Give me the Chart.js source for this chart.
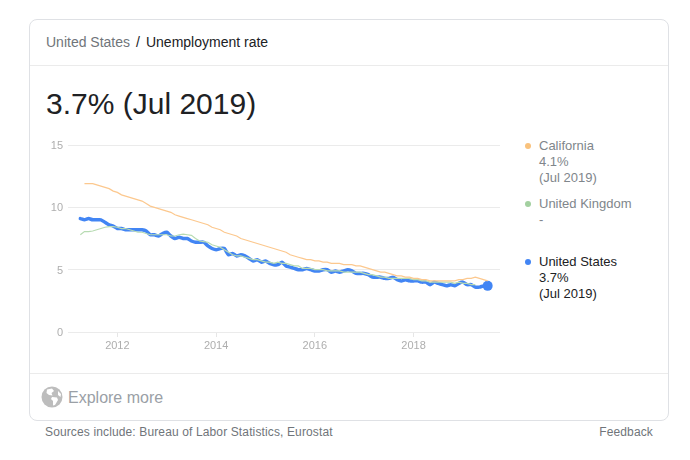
<!DOCTYPE html>
<html>
<head>
<meta charset="utf-8">
<script src="https://cdn.jsdelivr.net/npm/chart.js@4"></script>
<style>
  html, body { margin: 0; padding: 0; background: #fff; }
  body { width: 690px; height: 460px; position: relative; overflow: hidden; font-family: Arial, "Liberation Sans", sans-serif; }
  .abs { position: absolute; white-space: nowrap; }
  #card { left: 29px; top: 19px; width: 638px; height: 400px; border: 1px solid #dfe1e5; border-radius: 8px; box-sizing: content-box; }
  .rule { left: 30px; width: 638px; height: 1px; background: #ebebeb; }
  #crumb { left: 46px; top: 34px; font-size: 14px; line-height: 16px; color: #202124; }
  #crumb span { color: #70757a; }
  #crumb i { font-style: normal; margin: 0 6px 0 6px; }
  #big { left: 46px; top: 86px; font-size: 30px; line-height: 36px; color: #202124; }
  #chartBox { left: 30px; top: 130px; }
  .leg { left: 539px; font-size: 13px; line-height: 16px; color: #80868b; }
  .dot { width: 6px; height: 6px; border-radius: 50%; left: 525px; }
  #explore { left: 68px; top: 388px; font-size: 16px; line-height: 19px; color: #9aa0a6; }
  #globe { left: 41px; top: 386px; }
  #sources { left: 45px; top: 425px; font-size: 12px; line-height: 15px; color: #70757a; letter-spacing: .13px; }
  #feedback { right: 37px; top: 425px; font-size: 12px; line-height: 15px; color: #70757a; letter-spacing: .13px; }
</style>
</head>
<body>
<div class="abs" id="card"></div>
<div class="abs" id="crumb"><span>United States</span><i>/</i>Unemployment rate</div>
<div class="abs rule" style="top:65px"></div>
<div class="abs" id="big">3.7% (Jul 2019)</div>

<div class="abs" id="chartBox"><canvas id="chart" width="475" height="228"></canvas></div>

<div class="abs dot" style="top:143px;background:#f9c27d"></div>
<div class="abs leg" style="top:138px">California<br>4.1%<br>(Jul 2019)</div>
<div class="abs dot" style="top:201px;background:#a3d0a0"></div>
<div class="abs leg" style="top:196px">United Kingdom<br>-</div>
<div class="abs dot" style="top:259px;background:#4285f4"></div>
<div class="abs leg" style="top:254px;color:#202124">United States<br>3.7%<br>(Jul 2019)</div>

<div class="abs rule" style="top:373px"></div>
<svg class="abs" id="globe" width="22" height="22" viewBox="0 0 22 22">
  <circle cx="11" cy="11" r="10.5" fill="#bdbdbd"/>
  <path d="M6 3.5 L11 2.5 L13 5 L10.5 7 L11.5 9.5 L8 9 L5.5 7 Z M11 11 L16 11.5 L17 14 L14 19 L12 19.5 L12 15 L10 13 Z M17 5 L20 8 L19.5 11 L17 9 Z" fill="#fff"/>
</svg>
<div class="abs" id="explore">Explore more</div>
<div class="abs" id="sources">Sources include: Bureau of Labor Statistics, Eurostat</div>
<div class="abs" id="feedback">Feedback</div>

<script>
const years = [2011, 2012, 2013, 2014, 2015, 2016, 2017, 2018, 2019];
const monthNames = ['Jan','Feb','Mar','Apr','May','Jun','Jul','Aug','Sep','Oct','Nov','Dec'];
const tickYears = [2012, 2014, 2016, 2018];
const yTicks = [0, 5, 10, 15];

// monthly axis, runs a little past the last value up to Oct 2019
const months = years.flatMap(y => monthNames.map(m => m + ' ' + y)).slice(0, 106);

const california = [
  null, null, null, null, 11.9, 11.9, 11.9, 11.8, 11.7, 11.6, 11.5, 11.3,
  11.2, 11.0, 10.9, 10.8, 10.7, 10.6, 10.5, 10.3, 10.1, 10.0, 9.9, 9.8,
  9.7, 9.6, 9.4, 9.3, 9.2, 9.1, 9.0, 8.9, 8.8, 8.7, 8.6, 8.4,
  8.3, 8.2, 8.0, 7.9, 7.8, 7.7, 7.5, 7.4, 7.3, 7.2, 7.1, 7.0,
  6.9, 6.8, 6.7, 6.6, 6.5, 6.4, 6.2, 6.1, 6.0, 5.9, 5.8, 5.8,
  5.7, 5.7, 5.6, 5.6, 5.5, 5.5, 5.5, 5.4, 5.4, 5.4, 5.3, 5.3,
  5.2, 5.1, 5.0, 4.9, 4.8, 4.8, 4.7, 4.6, 4.5, 4.5, 4.4, 4.4,
  4.3, 4.3, 4.2, 4.2, 4.1, 4.1, 4.1, 4.1, 4.1, 4.1, 4.1, 4.2,
  4.2, 4.3, 4.3, 4.4, 4.3, 4.2, 4.1
];
const unitedKingdom = [
  null, null, null, 7.8, 8.05, 8.05, 8.1, 8.2, 8.3, 8.4, 8.45, 8.45,
  8.4, 8.3, 8.3, 8.2, 8.1, 8.0, 8.0, 7.9, 7.8, 7.8, 7.8, 7.8,
  7.8, 7.7, 7.7, 7.8, 7.85, 7.8, 7.75, 7.5, 7.3, 7.25, 7.2, 7.0,
  6.9, 6.8, 6.6, 6.4, 6.2, 6.1, 6.1, 6.0, 5.9, 5.8, 5.8, 5.7,
  5.6, 5.6, 5.5, 5.6, 5.5, 5.5, 5.4, 5.3, 5.3, 5.1, 5.1, 5.1,
  5.0, 5.0, 5.0, 4.9, 4.9, 4.9, 4.9, 4.8, 4.8, 4.8, 4.8, 4.8,
  4.7, 4.6, 4.6, 4.5, 4.4, 4.4, 4.3, 4.3, 4.3, 4.3, 4.3, 4.3,
  4.2, 4.2, 4.1, 4.1, 4.0, 4.0, 4.0, 4.0, 4.0, 4.0, 3.9, 4.0,
  3.9, 3.9, 3.8, 3.8
];
const unitedStates = [
  null, null, null, 9.1, 9.0, 9.1, 9.0, 9.0, 9.0, 8.8, 8.6, 8.5,
  8.3, 8.3, 8.2, 8.2, 8.2, 8.2, 8.2, 8.1, 7.8, 7.8, 7.7, 7.9,
  8.0, 7.7, 7.5, 7.6, 7.5, 7.5, 7.3, 7.2, 7.2, 7.2, 6.9, 6.7,
  6.6, 6.7, 6.7, 6.2, 6.3, 6.1, 6.2, 6.1, 5.9, 5.7, 5.8, 5.6,
  5.7, 5.5, 5.4, 5.4, 5.6, 5.3, 5.2, 5.1, 5.0, 5.0, 5.1, 5.0,
  4.9, 4.9, 5.0, 5.0, 4.8, 4.9, 4.8, 4.9, 5.0, 4.9, 4.7, 4.7,
  4.7, 4.6, 4.4, 4.4, 4.4, 4.3, 4.3, 4.4, 4.2, 4.1, 4.2, 4.1,
  4.1, 4.1, 4.0, 4.0, 3.8, 4.0, 3.9, 3.8, 3.7, 3.8, 3.7, 3.9,
  4.0, 3.8, 3.8, 3.6, 3.6, 3.7, 3.7
];

const lastUS = unitedStates.length - 1;

new Chart(document.getElementById('chart'), {
  type: 'line',
  data: {
    labels: months,
    datasets: [
      { label: 'California', data: california, borderColor: '#fcc88e', borderWidth: 1.2, pointRadius: 0, tension: 0 },
      { label: 'United Kingdom', data: unitedKingdom, borderColor: '#b7dbb2', borderWidth: 1.2, pointRadius: 0, tension: 0 },
      {
        label: 'United States', data: unitedStates, borderColor: '#4285f4', borderWidth: 3.5, tension: 0.2,
        borderJoinStyle: 'round', borderCapStyle: 'round',
        pointRadius: c => c.dataIndex === lastUS ? 5 : 0,
        pointBackgroundColor: '#4285f4', pointBorderWidth: 0
      }
    ]
  },
  options: {
    responsive: false,
    animation: false,
    layout: { padding: { top: 15, right: 0, bottom: 0, left: 0 } },
    plugins: { legend: { display: false }, tooltip: { enabled: false } },
    scales: {
      x: {
        type: 'category',
        afterBuildTicks: s => {
          s.ticks = tickYears.map(y => ({ value: months.indexOf('Jan ' + y), label: String(y) }));
        },
        afterFit: s => { s.height = 26; },
        grid: { drawOnChartArea: false, drawTicks: true, tickLength: 5, color: '#e6e6e6' },
        border: { display: false },
        ticks: {
          autoSkip: false, maxRotation: 0, padding: 2, color: '#aeaeae',
          font: { family: 'Arial, "Liberation Sans"', size: 11 },
          callback: function (v) { return this.getLabelForValue(v).slice(4); }
        }
      },
      y: {
        min: 0, max: 15,
        afterBuildTicks: s => { s.ticks = yTicks.map(v => ({ value: v })); },
        afterFit: s => { s.width = 38; },
        grid: { drawTicks: false, color: '#ebebeb' },
        border: { display: false },
        ticks: {
          padding: 5, color: '#aeaeae', labelOffset: 1,
          font: { family: 'Arial, "Liberation Sans"', size: 11 }
        }
      }
    }
  }
});
</script>
</body>
</html>
